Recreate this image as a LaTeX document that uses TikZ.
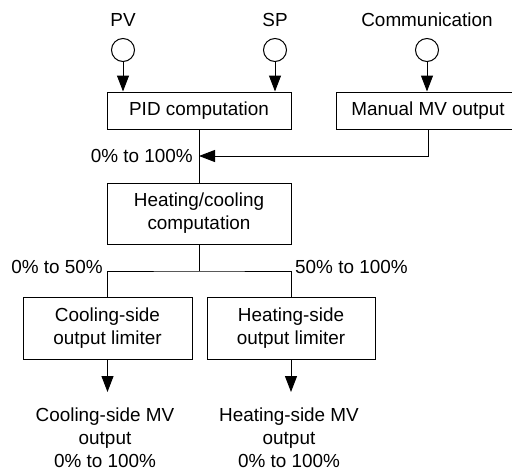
\documentclass[tikz,border=0pt]{standalone}
\usepackage{fontspec}
\setmainfont{Liberation Sans}
\usetikzlibrary{arrows.meta}
\tikzset{
  blk/.style={draw, line width=1pt, align=center, inner sep=0pt},
  port/.style={draw, circle, line width=1pt, minimum size=23pt, inner sep=0pt},
  txt/.style={align=center, inner sep=0pt},
  wire/.style={line width=1pt},
  flow/.style={wire, -{Triangle[length=16pt,width=12pt]}},
}
\begin{document}
\begin{tikzpicture}[x=1pt,y=-1pt,font=\fontsize{18.9}{23}\selectfont]
        \useasboundingbox (0,0) rectangle (512,472);
        \begin{scope}
        \clip (0,0) rectangle (512,472);
        % inputs
        \node[port] (pv) at (123,50) {};
        \node[port] (sp) at (275,50) {};
        \node[port] (comm) at (427,50) {};
        \node[txt] (pvtxt) at (123,20) {PV};
        \node[txt] (sptxt) at (275,20) {SP};
        \node[txt] (commtxt) at (427,20) {Communication};
        % blocks
        \node[blk, minimum width=184pt, minimum height=37pt] (pid) at (199,110.5) {PID computation};
        \node[blk, minimum width=184pt, minimum height=37pt] (man) at (428,110.5) {Manual MV output};
        \node[blk, minimum width=184pt, minimum height=61pt] (hc) at (199,213.5) {Heating/cooling\\computation};
        \node[blk, minimum width=169pt, minimum height=62pt] (cool) at (107.5,328) {Cooling-side\\output limiter};
        \node[blk, minimum width=168pt, minimum height=62pt] (heat) at (291,328) {Heating-side\\output limiter};
        % connections
        \draw[flow] (pv) -- (pv |- pid.north);
        \draw[flow] (sp) -- (sp |- pid.north);
        \draw[flow] (comm) -- (comm |- man.north);
        \coordinate (join) at (199,156);
        \draw[wire] (pid.south) -- (hc.north);
        \draw[flow] (man.south) |- (join);
        \node[txt, anchor=east] (rng) at (193,156) {0\% to 100\%};
        \coordinate (split) at (199,271);
        \draw[wire] (hc.south) -- (split);
        \draw[wire] (cool.north) |- (split) -| (heat.north);
        \node[txt, anchor=east] (rnglo) at (103,267) {0\% to 50\%};
        \node[txt, anchor=west] (rnghi) at (295,267) {50\% to 100\%};
        % outputs
        \coordinate (coolend) at (107.5,392);
        \coordinate (heatend) at (291,392);
        \draw[flow] (cool.south) -- (coolend);
        \draw[flow] (heat.south) -- (heatend);
        \node[txt] (coolout) at (105,438) {Cooling-side MV\\output\\0\% to 100\%};
        \node[txt] (heatout) at (289,438) {Heating-side MV\\output\\0\% to 100\%};
        \end{scope}
    \end{tikzpicture}
\end{document}
